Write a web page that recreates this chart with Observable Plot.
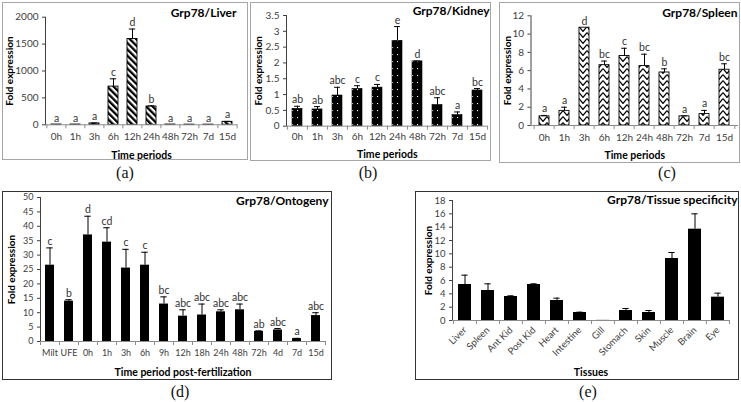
<!DOCTYPE html>
<html><head><meta charset="utf-8">
<script src="https://cdn.jsdelivr.net/npm/d3@7"></script>
<script src="https://cdn.jsdelivr.net/npm/@observablehq/plot@0.6"></script>
<style>
body{margin:0;background:#fff;}
#root{position:relative;width:741px;height:402px;overflow:hidden;font-family:Lato,sans-serif;background:#fff;}
.panel{position:absolute;}
.box{position:absolute;box-sizing:border-box;pointer-events:none;}
.cap{position:absolute;font-family:"Liberation Serif","DejaVu Serif",serif;font-size:16px;color:#111;transform:translate(-50%,-50%);white-space:nowrap;}
</style></head><body><div id="root"></div>
<script>
// ---------- data ----------
const timeCats = ["0h","1h","3h","6h","12h","24h","48h","72h","7d","15d"];

const liverMean = [5, 5, 25, 710, 1595, 340, 5, 3, 3, 55];
const liverErr  = [0, 0, 8, 145, 185, 12, 0, 0, 0, 8];
const liverSig  = ["a","a","a","c","d","b","a","a","a","a"];
const liverTicks = [0, 500, 1000, 1500, 2000];

const kidneyMean = [0.55, 0.53, 0.97, 1.18, 1.22, 2.70, 2.05, 0.67, 0.35, 1.13];
const kidneyErr  = [0.08, 0.09, 0.26, 0.10, 0.10, 0.45, 0.01, 0.23, 0.10, 0.06];
const kidneySig  = ["ab","ab","abc","c","c","e","d","abc","a","bc"];
const kidneyTicks = [0, 0.5, 1, 1.5, 2, 2.5, 3, 3.5];

const spleenMean = [1.0, 1.6, 10.7, 6.6, 7.6, 6.5, 5.8, 1.0, 1.25, 6.1];
const spleenErr  = [0.1, 0.4, 0, 0.45, 0.85, 1.3, 0.4, 0.05, 0.4, 0.65];
const spleenSig  = ["a","a","d","bc","c","bc","b","a","a","bc"];
const spleenTicks = [0, 2, 4, 6, 8, 10, 12];

const ontoCats = ["Milt","UFE","0h","1h","3h","6h","9h","12h","18h","24h","48h","72h","4d","7d","15d"];
const ontoMean = [26.5, 14, 37, 34.5, 25.5, 26.5, 13, 8.8, 9.2, 10.3, 11, 3.5, 4, 1, 9];
const ontoErr  = [6, 0.5, 6.5, 5, 6.5, 4.5, 2.5, 2.2, 3.8, 0.7, 2, 0.2, 0.5, 0.1, 1];
const ontoSig  = ["c","b","d","cd","c","c","bc","abc","abc","abc","abc","ab","abc","a","abc"];
const ontoTicks = [0, 5, 10, 15, 20, 25, 30, 35, 40, 45, 50];

const tissueCats = ["Liver","Spleen","Ant Kid","Post Kid","Heart","Intestine","Gill","Stomach","Skin","Muscle","Brain","Eye"];
const tissueMean = [5.4, 4.5, 3.6, 5.4, 3.0, 1.2, 0.02, 1.5, 1.2, 9.3, 13.7, 3.5];
const tissueErr  = [1.4, 1.0, 0.1, 0.1, 0.35, 0.05, 0, 0.3, 0.3, 0.9, 2.3, 0.6];
const tissueTicks = [0, 2, 4, 6, 8, 10, 12, 14, 16, 18];

// ---------- patterns ----------
const patternDefs = {
  patA: `<pattern id="patA" patternUnits="userSpaceOnUse" width="4.5" height="4.5" patternTransform="rotate(-45)"><rect width="4.5" height="4.5" fill="#fff"/><rect width="2.3" height="4.5" fill="#000"/></pattern>`,
  patB: `<pattern id="patB" patternUnits="userSpaceOnUse" width="5" height="7"><rect width="5" height="7" fill="#000"/><rect x="2" y="3" width="1.1" height="1.1" fill="#fff"/></pattern>`,
  patC: `<pattern id="patC" patternUnits="userSpaceOnUse" width="8" height="6"><rect width="8" height="6" fill="#fff"/><path d="M0,0.6 L4,5.4 L8,0.6" fill="none" stroke="#000" stroke-width="1.3"/></pattern>`
};

const root = document.getElementById("root");

function panel(cfg) {
  const {box, frame, cats, mean, err, sig, yMax, yTicks} = cfg;
  const W = box.r - box.l, H = box.b - box.t;
  const mL = frame.l - box.l, mR = box.r - frame.r, mT = frame.yTop - box.t, mB = box.b - frame.y0;
  const n = cats.length;
  const step = (frame.r - frame.l) / n;
  const pad = cfg.pad;
  const bw = step * (1 - pad);
  const data = cats.map((c, i) => ({cat: c, mean: mean[i], err: err[i], sig: sig ? sig[i] : ""}));
  const withErr = data.filter(d => d.err > 0);
  const capHalf = 3;
  const grey = "#8c8c8c";
  const marks = [
    Plot.barY(data, {x: "cat", y: "mean", fill: cfg.fill, stroke: "#000", strokeWidth: cfg.strokeWidth}),
    Plot.ruleX(withErr, {x: "cat", y1: "mean", y2: d => d.mean + d.err, stroke: "#000", strokeWidth: 1}),
    Plot.tickY(withErr, {x: "cat", y: d => d.mean + d.err, insetLeft: bw / 2 - capHalf, insetRight: bw / 2 - capHalf, stroke: "#000", strokeWidth: 1}),
    Plot.ruleY([0], {stroke: grey}),
    Plot.ruleX(cats, {x: d => d, dx: -step / 2, y1: 0, y2: 0, insetBottom: -4, stroke: grey}),
    Plot.ruleX([cats[n - 1]], {x: d => d, dx: step / 2, y1: 0, y2: 0, insetBottom: -4, stroke: grey}),
    Plot.text([cfg.title], {frameAnchor: "top-right", text: d => d, dx: cfg.titleRight - frame.r, dy: cfg.titleY - frame.yTop, textAnchor: "end", lineAnchor: "middle", fontWeight: "bold", fontSize: cfg.titleSize, fill: "#000"}),
    Plot.text([cfg.xTitle], {frameAnchor: "bottom", text: d => d, dy: cfg.xTitleY - frame.y0, lineAnchor: "middle", fontWeight: "bold", fontSize: 10.5, fill: "#000"}),
    Plot.text(["Fold expression"], {frameAnchor: "left", text: d => d, dx: cfg.yTitleX - frame.l, rotate: -90, textAnchor: "middle", lineAnchor: "middle", fontWeight: "bold", fontSize: 10, fill: "#000"})
  ];
  if (sig) {
    marks.push(Plot.text(data, {x: "cat", y: d => d.mean + d.err, text: "sig", lineAnchor: "bottom", dy: -3, fontSize: 10.5, fill: "#333"}));
  }
  const svg = Plot.plot({
    width: W, height: H,
    marginLeft: mL, marginRight: mR, marginTop: mT, marginBottom: mB,
    style: {fontFamily: "Lato, sans-serif", fontSize: cfg.tickFont + "px", color: "#404040", background: "transparent", overflow: "visible"},
    x: {domain: cats, paddingInner: pad, paddingOuter: pad / 2, tickSize: 0, tickPadding: cfg.xTickPad, label: null, tickRotate: cfg.rotate || 0},
    y: {domain: [0, yMax], ticks: yTicks, tickSize: 3, tickPadding: 4, tickFormat: d => String(d), label: null, line: true},
    marks
  });
  if (cfg.patternId) {
    const ns = "http://www.w3.org/2000/svg";
    const defs = document.createElementNS(ns, "defs");
    defs.innerHTML = patternDefs[cfg.patternId];
    svg.insertBefore(defs, svg.firstChild);
  }
  const wrap = document.createElement("div");
  wrap.className = "panel";
  wrap.style.left = box.l + "px";
  wrap.style.top = box.t + "px";
  wrap.style.width = W + "px";
  wrap.style.height = H + "px";
  wrap.appendChild(svg);
  root.appendChild(wrap);

  const b = document.createElement("div");
  b.className = "box";
  b.style.left = box.l + "px";
  b.style.top = box.t + "px";
  b.style.width = W + "px";
  b.style.height = H + "px";
  b.style.border = cfg.border;
  root.appendChild(b);

  const c = document.createElement("div");
  c.className = "cap";
  c.textContent = cfg.caption;
  c.style.left = cfg.capX + "px";
  c.style.top = cfg.capY + "px";
  root.appendChild(c);
}

const lightBorder = "1.5px solid #a6a6a6";
const darkBorder = "1.5px solid #333";

panel({
  box: {l: 2, t: 2, r: 248, b: 160}, frame: {l: 45, r: 237, y0: 124.3, yTop: 16.7},
  cats: timeCats, mean: liverMean, err: liverErr, sig: liverSig, yMax: 2000, yTicks: liverTicks,
  pad: 0.5, fill: "url(#patA)", patternId: "patA", strokeWidth: 0.9, xTickPad: 8, tickFont: 10,
  title: "Grp78/Liver", titleRight: 236, titleY: 13, titleSize: 12,
  xTitle: "Time periods", xTitleY: 155, yTitleX: 9.5,
  border: lightBorder, caption: "(a)", capX: 125, capY: 173
});

panel({
  box: {l: 250, t: 2, r: 491, b: 161}, frame: {l: 286, r: 487.5, y0: 125.7, yTop: 15},
  cats: timeCats, mean: kidneyMean, err: kidneyErr, sig: kidneySig, yMax: 3.5, yTicks: kidneyTicks,
  pad: 0.5, fill: "url(#patB)", patternId: "patB", strokeWidth: 0.6, xTickPad: 7, tickFont: 10,
  title: "Grp78/Kidney", titleRight: 489, titleY: 11, titleSize: 12,
  xTitle: "Time periods", xTitleY: 154, yTitleX: 258.3,
  border: lightBorder, caption: "(b)", capX: 368, capY: 173
});

panel({
  box: {l: 499, t: 2, r: 740, b: 163}, frame: {l: 530.5, r: 738, y0: 125, yTop: 15.3},
  cats: timeCats, mean: spleenMean, err: spleenErr, sig: spleenSig, yMax: 12, yTicks: spleenTicks,
  pad: 0.5, fill: "url(#patC)", patternId: "patC", strokeWidth: 0.9, xTickPad: 8, tickFont: 10,
  title: "Grp78/Spleen", titleRight: 737, titleY: 13, titleSize: 12,
  xTitle: "Time periods", xTitleY: 155, yTitleX: 507.7,
  border: lightBorder, caption: "(c)", capX: 667, capY: 173
});

panel({
  box: {l: 2, t: 191, r: 332, b: 380}, frame: {l: 40, r: 325, y0: 341, yTop: 197},
  cats: ontoCats, mean: ontoMean, err: ontoErr, sig: ontoSig, yMax: 50, yTicks: ontoTicks,
  pad: 0.55, fill: "#000", patternId: null, strokeWidth: 0, xTickPad: 8, tickFont: 9,
  title: "Grp78/Ontogeny", titleRight: 328, titleY: 201, titleSize: 12,
  xTitle: "Time period post-fertilization", xTitleY: 372, yTitleX: 11.7,
  border: darkBorder, caption: "(d)", capX: 180, capY: 392
});

panel({
  box: {l: 415, t: 191, r: 739, b: 380}, frame: {l: 452, r: 729, y0: 320, yTop: 200},
  cats: tissueCats, mean: tissueMean, err: tissueErr, sig: null, yMax: 18, yTicks: tissueTicks,
  pad: 0.45, fill: "#000", patternId: null, strokeWidth: 0, xTickPad: 8, rotate: -45, tickFont: 9.5,
  title: "Grp78/Tissue specificity", titleRight: 737, titleY: 200, titleSize: 12,
  xTitle: "Tissues", xTitleY: 372, yTitleX: 428,
  border: darkBorder, caption: "(e)", capX: 588, capY: 392
});
</script></body></html>
